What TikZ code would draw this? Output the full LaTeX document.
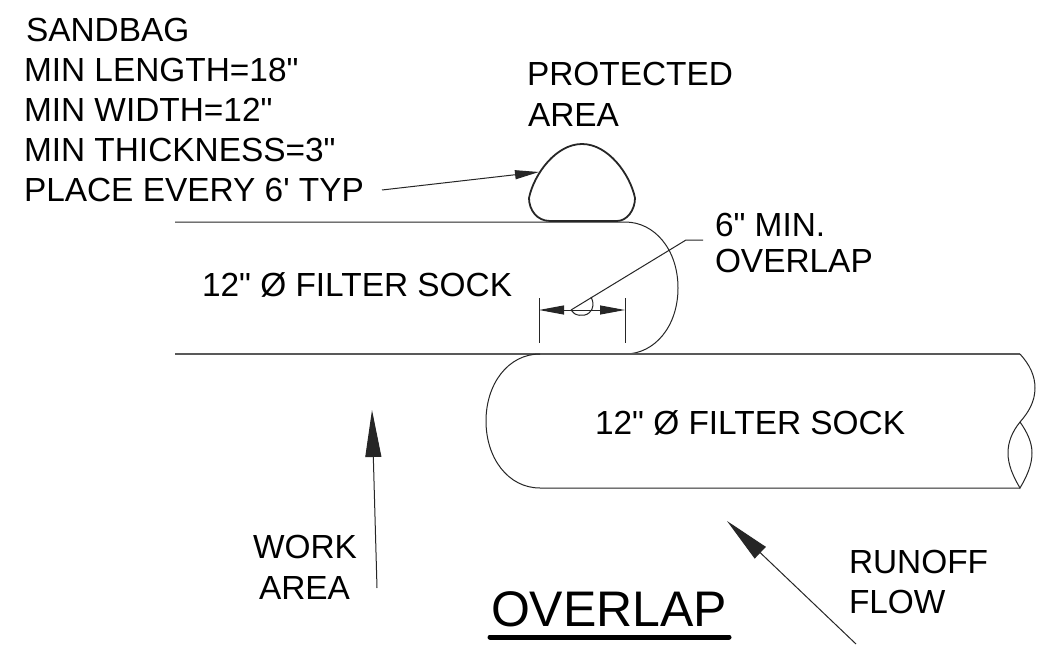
\documentclass[tikz,border=0pt]{standalone}
\usepackage{fontspec}
\setmainfont{Liberation Sans}[Ligatures=TeXOff]
\usetikzlibrary{arrows.meta}
\tikzset{
 x=1pt,y=-1pt,
 lbl/.style={inner sep=0pt,outer sep=0pt,anchor=base west,font=\fontsize{33.4}{36}\selectfont,text=black},
 bigl/.style={inner sep=0pt,outer sep=0pt,anchor=base west,font=\fontsize{50}{54}\selectfont,text=black},
 ln/.style={draw=black!85,line width=1pt},
 gln/.style={draw=black!65,line width=1.6pt},
 bag/.style={draw=black!85,line width=1.8pt},
 smallarrow/.style={ln,-{Triangle[length=24pt,width=9pt]}},
 midarrow/.style={ln,-{Triangle[length=47pt,width=16pt]}},
 bigarrow/.style={ln,-{Triangle[length=46pt,width=16pt]}},
 dimarrow/.style={ln,-{Triangle[length=25pt,width=9pt]}},
}
\begin{document}
\begin{tikzpicture}
\useasboundingbox[fill=white] (0,0) rectangle (1045,656);
% text
\node[lbl] (t1) at (26,41) {SANDBAG};
\node[lbl] (t2) at (24,81) {MIN LENGTH=18"};
\node[lbl] (t3) at (24,121) {MIN WIDTH=12"};
\node[lbl] (t4) at (24,161) {MIN THICKNESS=3"};
\node[lbl] (t5) at (24,201) {PLACE EVERY 6' TYP};
\node[lbl] (pa1) at (527,85) {PROTECTED};
\node[lbl] (pa2) at (528,126) {AREA};
\node[lbl] (s1) at (202,296) {12" Ø FILTER SOCK};
\node[lbl] (s2) at (595,434) {12" Ø FILTER SOCK};
\node[lbl] (o1) at (715,236) {6" MIN.};
\node[lbl] (o2) at (715,272) {OVERLAP};
\node[lbl] (w1) at (253,558) {WORK};
\node[lbl] (w2) at (259,599) {AREA};
\node[lbl] (r1) at (849,573) {RUNOFF};
\node[lbl] (r2) at (849,613) {FLOW};
\node[bigl] (ov) at (491,626) {OVERLAP};
% underline
\coordinate (ua) at (490,637); \coordinate (ub) at (729,637);
\draw[black,line width=5pt,line cap=round] (ua) -- (ub);
% sandbag
\coordinate (bagL) at (529,198); \coordinate (bagT) at (582,144); \coordinate (bagR) at (635,198);
\coordinate (bagBR) at (617,221); \coordinate (bagBL) at (550,221);
\draw[bag] (bagBL) -- (bagBR) .. controls (627,221) and (635,210) .. (bagR)
  .. controls (630,174) and (608,144) .. (bagT)
  .. controls (556,144) and (534,174) .. (bagL)
  .. controls (529,210) and (537,221) .. (bagBL) -- cycle;
% upper sock
\coordinate (a1) at (175,222); \coordinate (a2) at (625,222); \coordinate (a3) at (678,288); \coordinate (a4) at (625,354);
\draw[ln] (a1) -- (a2) .. controls (655,222) and (678,250) .. (a3) .. controls (678,326) and (655,354) .. (a4);
% common line
\coordinate (b1) at (175,354); \coordinate (b2) at (1020,354);
\draw[gln] (b1) -- (b2);
% lower sock
\coordinate (c1) at (540,354); \coordinate (c2) at (486,421); \coordinate (c3) at (540,488); \coordinate (c4) at (1020,488);
\draw[ln] (c1) .. controls (508,354) and (486,384) .. (c2) .. controls (486,458) and (508,488) .. (c3) -- (c4);
% broken end
\coordinate (e1) at (1035,388); \coordinate (e2) at (1020,422);
\draw[ln] (b2) .. controls (1030,365) and (1035,376) .. (e1) .. controls (1035,402) and (1028,413) .. (e2)
  .. controls (1012,432) and (1008,442) .. (1008,453) .. controls (1008,465) and (1013,476) .. (c4)
  .. controls (1027,476) and (1032,465) .. (1032,453) .. controls (1032,442) and (1027,432) .. (e2);
% dimension
\coordinate (d1t) at (539,298); \coordinate (d1b) at (539,343);
\coordinate (d2t) at (625,298); \coordinate (d2b) at (625,343);
\coordinate (dl) at (539,310); \coordinate (dr) at (625,310); \coordinate (dm) at (582,310);
\draw[ln] (d1t) -- (d1b);
\draw[ln] (d2t) -- (d2b);
\draw[dimarrow] (dm) -- (dl);
\draw[dimarrow] (dm) -- (dr);
% leader
\coordinate (l1) at (571,310); \coordinate (l2) at (686,240); \coordinate (l3) at (703,240);
\draw[ln] (l1) -- (l2) -- (l3);
\draw[ln] (l1) .. controls (574,316) and (584,317) .. (589,313) .. controls (594,309) and (594,302) .. (591,297);
% arrows
\coordinate (sa) at (382,190); \coordinate (sb) at (539,172);
\draw[smallarrow] (sa) -- (sb);
\coordinate (wa) at (377,588); \coordinate (wb) at (372,410);
\draw[midarrow] (wa) -- (wb);
\coordinate (ra) at (856,644); \coordinate (rb) at (727,521);
\draw[bigarrow] (ra) -- (rb);
\end{tikzpicture}
\end{document}
